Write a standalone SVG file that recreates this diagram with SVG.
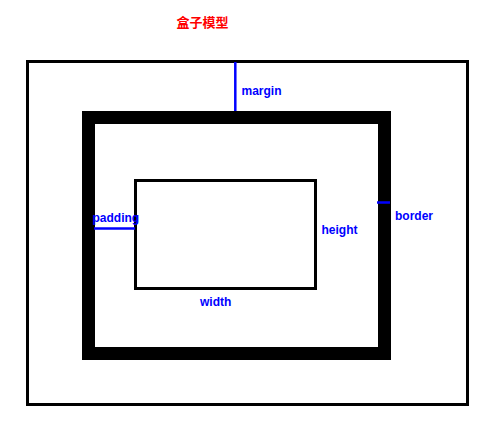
<svg xmlns="http://www.w3.org/2000/svg" width="489" height="432" viewBox="0 0 489 432">
<style>
.box{fill:none;stroke:#000}
.lbl{font-family:"Liberation Sans",Arial,sans-serif;font-size:12px;font-weight:bold;fill:#0000ff}
.ln{stroke:#0000ff;stroke-width:2.5;fill:none}
</style>
<rect width="489" height="432" fill="#fff"/>
<text x="176.5" y="27" font-family="'Noto Sans CJK SC',sans-serif" font-size="13" font-weight="bold" fill="#ff0000">盒子模型</text>
<g id="margin-box"><rect class="box" x="27.5" y="61.5" width="440" height="343" stroke-width="3"/></g>
<g id="border-box"><rect class="box" x="88.5" y="117.5" width="296" height="236" stroke-width="13"/></g>
<g id="content-box"><rect class="box" x="135.5" y="180.5" width="180" height="108" stroke-width="3"/></g>
<g id="connectors">
<line class="ln" x1="235.3" y1="62" x2="235.3" y2="111"/>
<line class="ln" x1="94" y1="228.5" x2="135" y2="228.5"/>
<line class="ln" x1="377" y1="202.5" x2="390" y2="202.5"/>
</g>
<g id="labels">
<text class="lbl" x="241.5" y="95">margin</text>
<text class="lbl" x="92.5" y="221.5">padding</text>
<text class="lbl" x="395" y="219.5">border</text>
<text class="lbl" x="321.5" y="234">height</text>
<text class="lbl" x="200" y="306">width</text>
</g>
</svg>
